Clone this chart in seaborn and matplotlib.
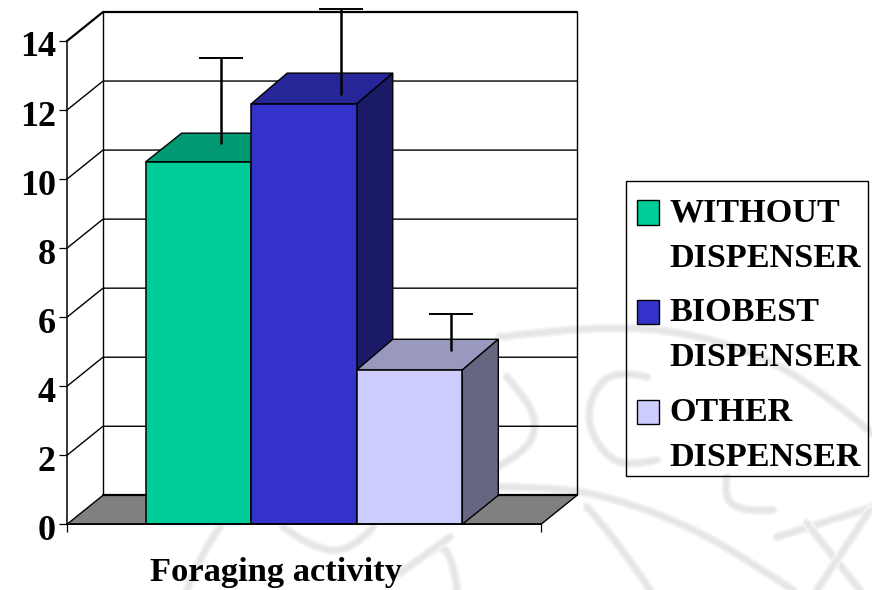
import numpy as np
import pandas as pd
import matplotlib
matplotlib.use("Agg")
import matplotlib.pyplot as plt
from matplotlib.patches import Polygon, PathPatch, Rectangle
from matplotlib.path import Path
from matplotlib.transforms import IdentityTransform, Affine2D
import seaborn as sns

# ---- data ----
category = ["Foraging activity"]
dispensers = ["WITHOUT\nDISPENSER", "BIOBEST\nDISPENSER", "OTHER\nDISPENSER"]
values = [10.5, 12.18, 4.47]
err_low = [11.03, 12.44, 5.03]
err_high = [13.52, 14.94, 6.09]
y_ticks = [0, 2, 4, 6, 8, 10, 12, 14]

# ---- style ----
front_colors = ["#00CC99", "#3333CC", "#CCCCFF"]
top_colors = ["#009973", "#262699", "#9999BF"]
side_colors = ["#006650", "#1A1A66", "#666680"]
W, H = 872, 590
X0, X1, Y0, Y14 = 67, 541, 524.3, 41
DDX = 36 / (X1 - X0)
DDY = 29 / ((Y0 - Y14) / 14)
top_ddy = [0.83, 0.89, 0.89]
err_shift = [22.8 / 474, 37.3 / 474, 41 / 474]
FS = 24.6

sns.set_theme(style="white")
plt.rcParams["font.family"] = ["Liberation Serif", "DejaVu Serif"]
plt.rcParams["font.weight"] = "bold"

fig = plt.figure(figsize=(W / 100, H / 100), dpi=100, facecolor="white")
ax = fig.add_axes([X0 / W, 1 - Y0 / H, (X1 - X0) / W, (Y0 - Y14) / H])
ax.patch.set_visible(False)

# ---- faint background watermark (pixel coordinates, y down) ----
strokes = [
    [(500, 337), (597, 325), (697, 333), (797, 370), (872, 433)],
    [(507, 377), (530, 403), (537, 430), (523, 453), (497, 467)],
    [(647, 377), (617, 370), (593, 390), (587, 423), (603, 453), (627, 467), (657, 460)],
    [(727, 477), (723, 497), (743, 512), (773, 510)],
    [(497, 487), (563, 487), (630, 503), (697, 530), (763, 570), (793, 590)],
    [(587, 507), (617, 540), (650, 590)],
    [(777, 537), (872, 507)],
    [(807, 523), (830, 553), (860, 590)],
    [(870, 510), (817, 590)],
    [(220, 527), (200, 555), (187, 590)],
    [(430, 553), (450, 533), (457, 590)],
    [(450, 537), (400, 573)],
    [(283, 527), (310, 547), (350, 553), (373, 527)],
]
def smooth(pts):
    p = [(x, H - y) for x, y in pts]
    if len(p) < 3:
        return Path(p)
    verts, codes = [p[0]], [Path.MOVETO]
    for i in range(1, len(p) - 1):
        end = p[i + 1] if i == len(p) - 2 else ((p[i][0] + p[i + 1][0]) / 2, (p[i][1] + p[i + 1][1]) / 2)
        verts += [p[i], end]
        codes += [Path.CURVE3, Path.CURVE3]
    return Path(verts, codes)
for s in strokes:
    for lw, col in [(7.0, "#F6F6F6"), (5.0, "#EEEEEE"), (3.0, "#E6E6E6")]:
        fig.add_artist(PathPatch(smooth(s), fc="none", ec=col, lw=lw,
                                 transform=IdentityTransform(), zorder=-5, capstyle="round"))

# ---- bars ----
df = pd.DataFrame({"cat": category * 3, "dispenser": dispensers, "value": values})
sns.barplot(data=df, x="cat", y="value", hue="dispenser", hue_order=dispensers,
            palette=front_colors, width=0.668, gap=0, saturation=1,
            edgecolor="black", linewidth=1.1, ax=ax, errorbar=None)
ax.set_xlim(-0.5, 0.5)
ax.set_ylim(0, 14)
bars = sorted((c[0] for c in ax.containers), key=lambda b: b.get_x())

# ---- walls and floor ----
LW = 1.0
ax.add_patch(Polygon([(-0.5, 0), (0.5, 0), (0.5 + DDX, DDY), (-0.5 + DDX, DDY)],
                     fc="#808080", ec="black", lw=LW, clip_on=False, zorder=1))
ax.plot([-0.5 + DDX, 0.5 + DDX], [DDY, DDY], color="black", lw=1.6, clip_on=False, zorder=1.1)
for v in y_ticks[1:]:
    lw = 1.6 if v == 14 else LW
    ax.plot([-0.5, -0.5 + DDX, 0.5 + DDX], [v, v + DDY, v + DDY], color="black",
            lw=lw, clip_on=False, zorder=1.2, solid_joinstyle="miter")
for xv in (-0.5 + DDX, 0.5 + DDX):
    ax.plot([xv, xv], [DDY, 14 + DDY], color="black", lw=LW, clip_on=False, zorder=1.2)

# ---- 3-D faces of each bar ----
centers = []
for i, b in enumerate(bars):
    x0, x1, v = b.get_x(), b.get_x() + b.get_width(), b.get_height()
    dy = top_ddy[i]
    b.set_zorder(3 + 2 * i)
    b.set_clip_on(False)
    ax.add_patch(Polygon([(x0, v), (x1, v), (x1 + DDX, v + dy), (x0 + DDX, v + dy)],
                         fc=top_colors[i], ec="black", lw=1.0, clip_on=False, zorder=2 + 2 * i))
    ax.add_patch(Polygon([(x1, 0), (x1 + DDX, DDY), (x1 + DDX, v + dy), (x1, v)],
                         fc=side_colors[i], ec="black", lw=1.0, clip_on=False, zorder=2 + 2 * i))
    centers.append(b.get_x() + b.get_width() / 2)

# ---- error bars ----
for c, shift, lo, hi in zip(centers, err_shift, err_low, err_high):
    _, caps, _ = ax.errorbar([c + shift], [lo], yerr=[[0], [hi - lo]], color="black",
                             elinewidth=1.8, capsize=15.8, capthick=1.4,
                             clip_on=False, zorder=20, fmt="none")
    caps[0].set_visible(False)
    for c_ in list(caps):
        c_.set_clip_on(False)

# ---- axes ----
for s in ("top", "right"):
    ax.spines[s].set_visible(False)
for s in ("left", "bottom"):
    ax.spines[s].set_color("black")
    ax.spines[s].set_linewidth(1.1)
    ax.spines[s].set_zorder(10)
ax.set_yticks(y_ticks)
ax.set_xticks([-0.5, 0.5], ["", ""])
ax.tick_params(axis="both", which="major", length=6, width=0.9, color="black",
               left=True, bottom=True)
ax.tick_params(axis="y", pad=2, labelsize=26)
for t in ax.get_yticklabels():
    t.set_fontweight("bold")
    t.set_color("black")
    t.set_transform(t.get_transform() + Affine2D().translate(0, -3))
ax.set_ylabel("")
ax.set_xlabel("Foraging activity", fontsize=24.8, fontweight="bold", color="black",
              x=(276 - X0) / (X1 - X0), labelpad=14)

# ---- legend ----
handles, labels = ax.get_legend_handles_labels()
old = ax.get_legend()
if old is not None:
    old.remove()
leg = ax.legend(handles, labels, loc="upper left",
                bbox_to_anchor=(627 / W, 1 - 187 / H), bbox_transform=fig.transFigure,
                borderaxespad=0, frameon=False,
                handlelength=0.63, handleheight=0.72,
                handletextpad=0.3, labelspacing=0.68, borderpad=0.3,
                prop={"family": "Liberation Serif", "weight": "bold", "size": FS})
for t in leg.get_texts():
    t.set_linespacing(1.6)
    t.set_color("black")
for p in leg.get_patches():
    p.set_y(p.get_y() + 16.5)
    p.set_linewidth(1.0)
leg.set_zorder(30)
fig.add_artist(Rectangle((626, H - 476), 242, 295, fc="none", ec="black", lw=1.0,
                         transform=IdentityTransform(), zorder=29))

fig.savefig("out.png", dpi=100, facecolor="white")
